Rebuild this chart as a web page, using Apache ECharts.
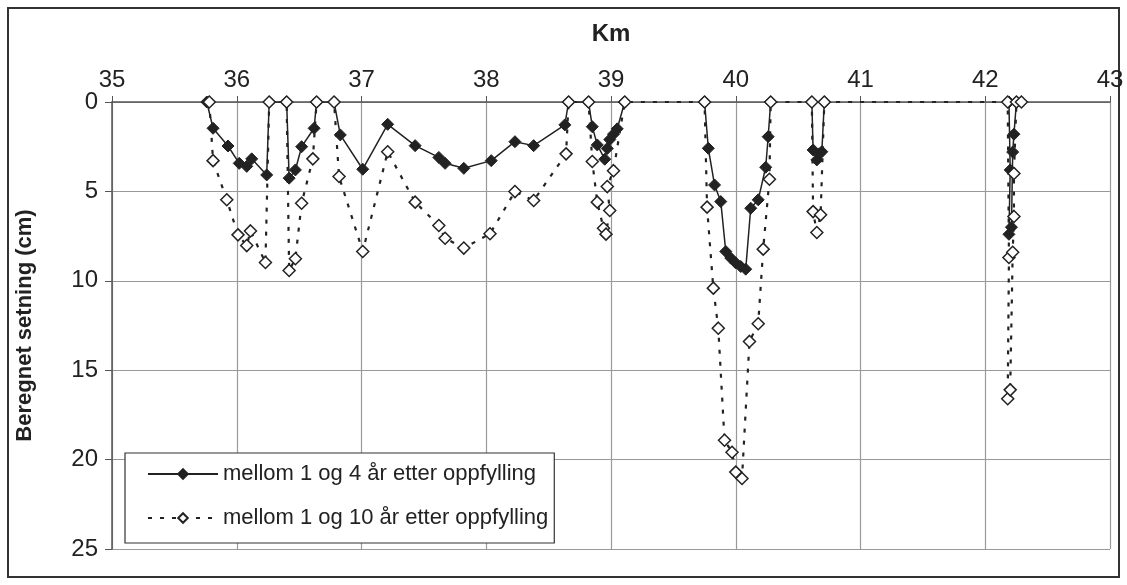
<!DOCTYPE html>
<html>
<head>
<meta charset="utf-8">
<script src="https://cdn.jsdelivr.net/npm/echarts@6/dist/echarts.min.js"></script>
<style>
    html, body { margin: 0; padding: 0; background: #fff; }
    #chartBox { width: 1127px; height: 585px; }
</style>
</head>
<body>
<div id="chartBox"></div>
<script>
// km-ticks along the top axis and depth ticks on the left
var kmTicks = [35, 36, 37, 38, 39, 40, 41, 42, 43];
var cmTicks = [0, 5, 10, 15, 20, 25];

var seriesNames = ['mellom 1 og 4 år etter oppfylling', 'mellom 1 og 10 år etter oppfylling'];

// [km, setning cm]; null = brudd i linja
var setning4 = [
    [35.76, 0], [35.81, 1.47], [35.93, 2.46], [36.02, 3.43], [36.08, 3.6], [36.12, 3.18], [36.24, 4.08],
    [36.26, 0], [36.40, 0], [36.42, 4.26], [36.47, 3.8], [36.52, 2.5], [36.62, 1.47], [36.64, 0],
    [36.78, 0], [36.83, 1.84], [37.01, 3.76], [37.21, 1.25], [37.43, 2.44], [37.62, 3.1], [37.67, 3.43],
    [37.82, 3.71], [38.04, 3.28], [38.23, 2.22], [38.38, 2.44], [38.63, 1.28], [38.66, 0],
    [38.82, 0], [38.85, 1.38], [38.89, 2.4], [38.95, 3.2], [38.97, 2.6], [38.99, 2.1], [39.02, 1.8],
    [39.05, 1.5], [39.11, 0],
    null,
    [39.75, 0], [39.78, 2.59], [39.83, 4.64], [39.88, 5.57], [39.92, 8.36], [39.96, 8.73], [40.0, 9.0],
    [40.04, 9.2], [40.08, 9.35], [40.12, 5.94], [40.18, 5.47], [40.24, 3.65], [40.26, 1.94], [40.28, 0],
    null,
    [40.61, 0], [40.62, 2.68], [40.65, 3.24], [40.67, 2.9], [40.69, 2.78], [40.71, 0],
    null,
    [42.19, 0], [42.2, 3.8], [42.19, 7.4], [42.21, 7.0], [42.22, 2.8], [42.23, 1.8], [42.25, 0]
];

var setning10 = [
    [35.78, 0], [35.81, 3.28], [35.92, 5.47], [36.01, 7.43], [36.08, 8.03], [36.11, 7.21], [36.23, 8.98],
    [36.26, 0], [36.40, 0], [36.42, 9.42], [36.47, 8.77], [36.52, 5.66], [36.61, 3.18], [36.64, 0],
    [36.78, 0], [36.82, 4.17], [37.01, 8.36], [37.21, 2.78], [37.43, 5.6], [37.62, 6.91], [37.67, 7.62],
    [37.82, 8.17], [38.03, 7.37], [38.23, 5.01], [38.38, 5.51], [38.64, 2.9], [38.66, 0],
    [38.82, 0], [38.85, 3.33], [38.89, 5.6], [38.94, 7.06], [38.96, 7.39], [38.99, 6.07], [38.97, 4.73],
    [39.02, 3.84], [39.11, 0],
    [39.75, 0], [39.77, 5.88], [39.82, 10.41], [39.86, 12.65], [39.91, 18.92], [39.97, 19.59], [40.0, 20.7],
    [40.05, 21.06], [40.11, 13.39], [40.18, 12.4], [40.22, 8.23], [40.27, 4.32], [40.28, 0],
    [40.61, 0], [40.62, 6.13], [40.65, 7.3], [40.68, 6.31], [40.71, 0],
    [42.18, 0], [42.19, 8.7], [42.18, 16.6], [42.2, 16.1], [42.22, 8.4], [42.23, 6.4], [42.23, 4.0],
    [42.25, 0], [42.29, 0]
];

chart();

function chart() {
    var myChart = echarts.init(document.getElementById('chartBox'), null, {renderer: 'canvas'});
    var font = '"Liberation Sans", Arial, sans-serif';
    var option = {
        backgroundColor: '#fff',
        animation: false,
        textStyle: {fontFamily: font},
        graphic: [{
            type: 'rect',
            shape: {x: 8, y: 8, width: 1111, height: 569},
            style: {fill: 'none', stroke: '#333', lineWidth: 2},
            z: -1
        }],
        grid: {left: 112, right: 17, top: 102, bottom: 36, containLabel: false},
        legend: {
            data: seriesNames,
            orient: 'vertical',
            left: 125,
            top: 453,
            backgroundColor: '#fff',
            borderColor: '#333',
            borderWidth: 1.2,
            borderRadius: 0,
            padding: [10, 6, 14, 22],
            itemGap: 22,
            itemWidth: 70,
            itemHeight: 12,
            textStyle: {fontSize: 22, color: '#222', fontFamily: font}
        },
        xAxis: {
            type: 'value',
            position: 'top',
            min: kmTicks[0],
            max: kmTicks[kmTicks.length - 1],
            interval: 1,
            name: 'Km',
            nameLocation: 'middle',
            nameGap: 56,
            nameTextStyle: {fontSize: 24, fontWeight: 'bold', color: '#222', fontFamily: font},
            axisLine: {show: true, onZero: false, lineStyle: {color: '#555', width: 1.5}},
            axisTick: {show: true, inside: false, length: 6, lineStyle: {color: '#555'}},
            axisLabel: {fontSize: 24, color: '#222', margin: 10, fontFamily: font},
            splitLine: {show: true, lineStyle: {color: '#999', width: 1.2}}
        },
        yAxis: {
            type: 'value',
            inverse: true,
            min: cmTicks[0],
            max: cmTicks[cmTicks.length - 1],
            interval: 5,
            name: 'Beregnet setning (cm)',
            nameLocation: 'middle',
            nameGap: 76,
            nameTextStyle: {fontSize: 22, fontWeight: 'bold', color: '#222', fontFamily: font},
            axisLine: {show: true, lineStyle: {color: '#555', width: 1.5}},
            axisTick: {show: true, inside: false, length: 7, lineStyle: {color: '#555'}},
            axisLabel: {fontSize: 24, color: '#222', margin: 14, fontFamily: font},
            splitLine: {show: true, lineStyle: {color: '#999', width: 1.2}}
        },
        series: [
            {
                name: seriesNames[0],
                type: 'line',
                data: setning4,
                connectNulls: false,
                symbol: 'diamond',
                symbolSize: 12,
                lineStyle: {color: '#222', width: 1.5},
                itemStyle: {color: '#222', borderColor: '#222', borderWidth: 1},
                z: 3
            },
            {
                name: seriesNames[1],
                type: 'line',
                data: setning10,
                symbol: 'diamond',
                symbolSize: 12,
                lineStyle: {color: '#222', width: 2.2, type: [4, 8]},
                itemStyle: {color: '#fff', borderColor: '#222', borderWidth: 1.5},
                z: 4
            }
        ]
    };
    myChart.setOption(option);
}
</script>
</body>
</html>
